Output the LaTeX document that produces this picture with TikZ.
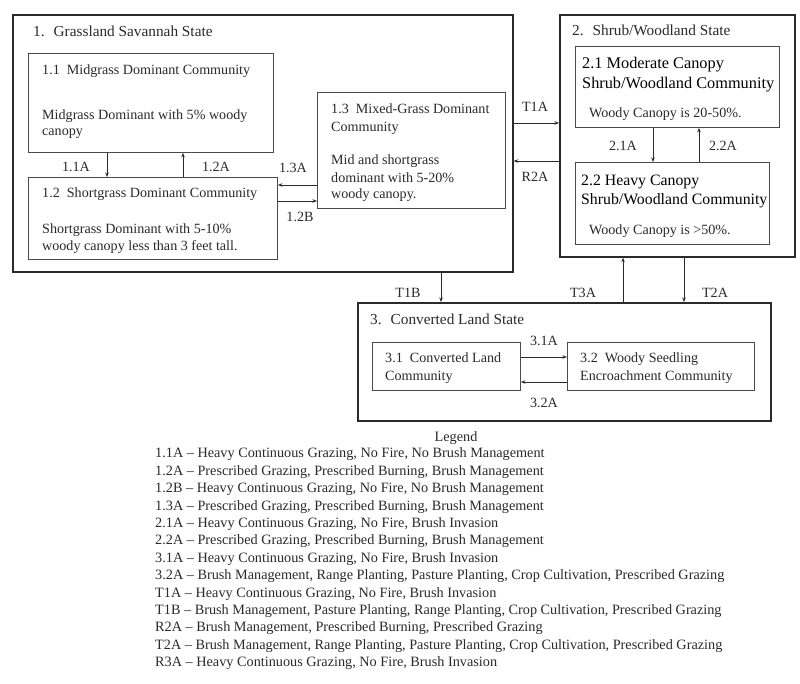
\documentclass[tikz,border=0pt]{standalone}
\usepackage{fontspec}
\setmainfont{Liberation Serif}
\usetikzlibrary{arrows.meta}
\definecolor{ink}{HTML}{2A2A2A}
\tikzset{
  sbox/.style={draw=ink, line width=1.7pt, anchor=north west, inner sep=0pt},
  cbox/.style={draw=ink!85, line width=0.9pt, anchor=north west, inner sep=0pt},
  arr/.style={draw=ink, line width=0.7pt, -{Stealth[length=4.5pt,width=3.5pt]}},
  txt/.style={anchor=base west, inner sep=0pt, text=ink, font=\fontsize{14.1}{16}\selectfont},
  ttl/.style={anchor=base west, inner sep=0pt, text=ink, font=\fontsize{15.3}{17}\selectfont},
  big/.style={anchor=base west, inner sep=0pt, text=black, font=\fontsize{16.3}{18}\selectfont},
  bigb/.style={anchor=base west, inner sep=0pt, text=black, font=\fontsize{15.8}{18}\selectfont},
  lbl/.style={anchor=base, inner sep=0pt, text=ink, font=\fontsize{14.1}{16}\selectfont},
  leg/.style={anchor=base west, inner sep=0pt, text=ink, font=\fontsize{14.25}{16}\selectfont},
}
\begin{document}
\begin{tikzpicture}[x=1pt,y=-1pt]
\useasboundingbox[fill=white] (0,0) rectangle (800,683);
% states
\node[sbox, minimum width=500pt, minimum height=257pt] (s1) at (12,14) {};
\node[sbox, minimum width=235pt, minimum height=242pt] (s2) at (559,14) {};
\node[sbox, minimum width=413pt, minimum height=118pt] (s3) at (357,302) {};
% communities
\node[cbox, minimum width=245pt, minimum height=99pt] (b11) at (28,53) {};
\node[cbox, minimum width=249pt, minimum height=82pt] (b12) at (28,177) {};
\node[cbox, minimum width=188pt, minimum height=116pt] (b13) at (317,92) {};
\node[cbox, minimum width=204pt, minimum height=81pt] (b21) at (575,46) {};
\node[cbox, minimum width=194pt, minimum height=82pt] (b22) at (575,162) {};
\node[cbox, minimum width=148pt, minimum height=48pt] (b31) at (372,342) {};
\node[cbox, minimum width=187pt, minimum height=48pt] (b32) at (567,342) {};
% titles
\node[ttl] (t1) at (33,36) {1.\hspace{9pt}Grassland Savannah State};
\node[ttl] (t2) at (572,35) {2.\hspace{9pt}Shrub/Woodland State};
\node[ttl] (t3) at (370,324) {3.\hspace{9pt}Converted Land State};
% box 1.1
\node[txt] (b11a) at (42,74.7) {1.1\ \ Midgrass Dominant Community};
\node[txt] (b11b) at (42,119.7) {Midgrass Dominant with 5\% woody};
\node[txt] (b11c) at (42,135.7) {canopy};
% box 1.2
\node[txt] (b12a) at (42,197.7) {1.2\ \ Shortgrass Dominant Community};
\node[txt] (b12b) at (42,233.7) {Shortgrass Dominant with 5-10\%};
\node[txt] (b12c) at (42,250.7) {woody canopy less than 3 feet tall.};
% box 1.3
\node[txt] (b13a) at (331,113.7) {1.3\ \ Mixed-Grass Dominant};
\node[txt] (b13b) at (331,131.7) {Community};
\node[txt] (b13c) at (331,164.7) {Mid and shortgrass};
\node[txt] (b13d) at (331,182.2) {dominant with 5-20\%};
\node[txt] (b13e) at (331,198.7) {woody canopy.};
% box 2.1
\node[big] (b21a) at (582,68) {2.1 Moderate Canopy};
\node[big] (b21b) at (582,88.5) {Shrub/Woodland Community};
\node[txt] (b21c) at (589,117.7) {Woody Canopy is 20-50\%.};
% box 2.2
\node[bigb] (b22a) at (581,185.5) {2.2 Heavy Canopy};
\node[bigb] (b22b) at (581,204) {Shrub/Woodland Community};
\node[txt] (b22c) at (589,234.7) {Woody Canopy is >50\%.};
% box 3.1 / 3.2
\node[txt] (b31a) at (385,362.7) {3.1\ \ Converted Land};
\node[txt] (b31b) at (385,380.7) {Community};
\node[txt] (b32a) at (580,362.7) {3.2\ \ Woody Seedling};
\node[txt] (b32b) at (580,380.7) {Encroachment Community};
% helper coordinates
\coordinate (x11) at (107,0);
\coordinate (x12) at (183,0);
\coordinate (y13) at (0,185);
\coordinate (y12b) at (0,201);
\coordinate (yt1a) at (0,123);
\coordinate (yr2a) at (0,161);
\coordinate (x21) at (653,0);
\coordinate (x22) at (699,0);
\coordinate (xt1b) at (441,0);
\coordinate (xt3a) at (623,0);
\coordinate (xt2a) at (684,0);
\coordinate (y31) at (0,357);
\coordinate (y32) at (0,382);
% arrows
\draw[arr] (b11.south -| x11) -- (b12.north -| x11);
\draw[arr] (b12.north -| x12) -- (b11.south -| x12);
\draw[arr] (b13.west |- y13) -- (b12.east |- y13);
\draw[arr] (b12.east |- y12b) -- (b13.west |- y12b);
\draw[arr] (s1.east |- yt1a) -- (s2.west |- yt1a);
\draw[arr] (s2.west |- yr2a) -- (s1.east |- yr2a);
\draw[arr] (b21.south -| x21) -- (b22.north -| x21);
\draw[arr] (b22.north -| x22) -- (b21.south -| x22);
\draw[arr] (s1.south -| xt1b) -- (s3.north -| xt1b);
\draw[arr] (s3.north -| xt3a) -- (s2.south -| xt3a);
\draw[arr] (s2.south -| xt2a) -- (s3.north -| xt2a);
\draw[arr] (b31.east |- y31) -- (b32.west |- y31);
\draw[arr] (b32.west |- y32) -- (b31.east |- y32);
% arrow labels
\node[lbl] (l11a) at (76,171.7) {1.1A};
\node[lbl] (l12a) at (216,171.7) {1.2A};
\node[lbl] (l13a) at (293,172.7) {1.3A};
\node[lbl] (l12b) at (300,221.7) {1.2B};
\node[lbl] (lt1a) at (535,111.7) {T1A};
\node[lbl] (lr2a) at (535,181.7) {R2A};
\node[lbl] (l21a) at (623,150.7) {2.1A};
\node[lbl] (l22a) at (723,150.7) {2.2A};
\node[lbl] (lt1b) at (408,297.7) {T1B};
\node[lbl] (lt3a) at (583,297.7) {T3A};
\node[lbl] (lt2a) at (715,297.7) {T2A};
\node[lbl] (l31a) at (544,345.7) {3.1A};
\node[lbl] (l32a) at (544,407.7) {3.2A};
% legend
\node[leg, anchor=base] (legt) at (456,441.8) {Legend};
\node[leg] (lg1) at (155,457.8) {1.1A -- Heavy Continuous Grazing, No Fire, No Brush Management};
\node[leg] (lg2) at (155,475.2) {1.2A -- Prescribed Grazing, Prescribed Burning, Brush Management};
\node[leg] (lg3) at (155,492.6) {1.2B -- Heavy Continuous Grazing, No Fire, No Brush Management};
\node[leg] (lg4) at (155,510.0) {1.3A -- Prescribed Grazing, Prescribed Burning, Brush Management};
\node[leg] (lg5) at (155,527.4) {2.1A -- Heavy Continuous Grazing, No Fire, Brush Invasion};
\node[leg] (lg6) at (155,544.8) {2.2A -- Prescribed Grazing, Prescribed Burning, Brush Management};
\node[leg] (lg7) at (155,562.2) {3.1A -- Heavy Continuous Grazing, No Fire, Brush Invasion};
\node[leg] (lg8) at (155,579.6) {3.2A -- Brush Management, Range Planting, Pasture Planting, Crop Cultivation, Prescribed Grazing};
\node[leg] (lg9) at (155,597.0) {T1A -- Heavy Continuous Grazing, No Fire, Brush Invasion};
\node[leg] (lg10) at (155,614.4) {T1B -- Brush Management, Pasture Planting, Range Planting, Crop Cultivation, Prescribed Grazing};
\node[leg] (lg11) at (155,631.8) {R2A -- Brush Management, Prescribed Burning, Prescribed Grazing};
\node[leg] (lg12) at (155,649.2) {T2A -- Brush Management, Range Planting, Pasture Planting, Crop Cultivation, Prescribed Grazing};
\node[leg] (lg13) at (155,666.6) {R3A -- Heavy Continuous Grazing, No Fire, Brush Invasion};
\end{tikzpicture}
\end{document}
